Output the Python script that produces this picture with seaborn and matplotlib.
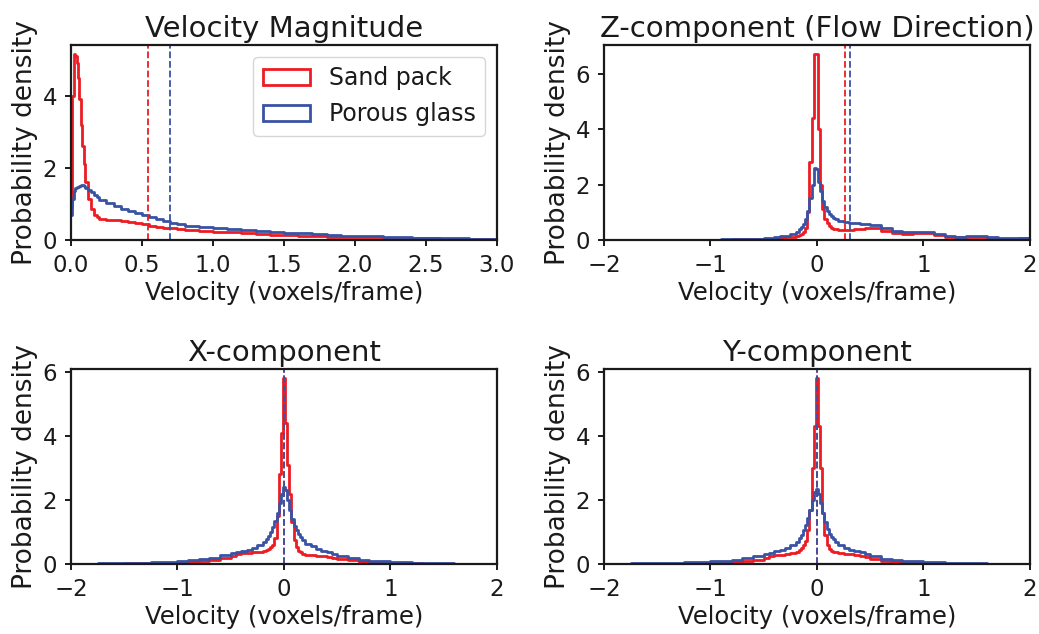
import numpy as np
import pandas as pd
import matplotlib
matplotlib.use("Agg")
import matplotlib.pyplot as plt
from matplotlib.patches import Patch
from matplotlib.ticker import MultipleLocator, FormatStrFormatter
import seaborn as sns

# =============================
# Data (probability density per bin)
# =============================
SERIES = ["Sand pack", "Porous glass"]
COLORS = ["#ed1c24", "#3953a4"]
TITLES = ["Velocity Magnitude", "Z-component (Flow Direction)", "X-component", "Y-component"]

MAG_EDGES = [0.0, 0.01, 0.02, 0.03, 0.04, 0.05, 0.06, 0.07, 0.08, 0.09,
             0.1, 0.12, 0.14, 0.16, 0.18, 0.2, 0.25, 0.3, 0.35, 0.4,
             0.45, 0.5, 0.55, 0.6, 0.65, 0.7, 0.75, 0.8, 0.9, 1.0,
             1.1, 1.2, 1.3, 1.4, 1.5, 1.6, 1.7, 1.8, 1.9, 2.0,
             2.2, 2.4, 2.6, 2.8, 3.0]
MAG_SAND = [0.9, 4.0, 5.15, 5.1, 4.9, 4.5, 3.9, 3.2, 2.6, 2.1,
            1.6, 1.15, 0.85, 0.7, 0.63, 0.58, 0.56, 0.55, 0.53, 0.5,
            0.47, 0.43, 0.4, 0.37, 0.34, 0.32, 0.3, 0.27, 0.25, 0.23,
            0.21, 0.19, 0.17, 0.15, 0.13, 0.12, 0.1, 0.09, 0.08, 0.07,
            0.06, 0.05, 0.04, 0.035]
MAG_GLASS = [0.7, 1.15, 1.35, 1.44, 1.48, 1.48, 1.5, 1.52, 1.53, 1.5,
             1.45, 1.38, 1.32, 1.26, 1.2, 1.12, 1.03, 0.95, 0.87, 0.8,
             0.75, 0.7, 0.64, 0.58, 0.52, 0.47, 0.43, 0.39, 0.36, 0.33,
             0.3, 0.27, 0.25, 0.22, 0.2, 0.18, 0.16, 0.14, 0.12, 0.1,
             0.08, 0.06, 0.05, 0.04]

COMP_EDGES = [-2.0, -1.75, -1.5, -1.25, -1.0, -0.9, -0.8, -0.7, -0.6, -0.5,
              -0.45, -0.4, -0.35, -0.3, -0.25, -0.2, -0.17, -0.15, -0.13, -0.11,
              -0.09, -0.07, -0.05, -0.03, -0.01, 0.01, 0.03, 0.05, 0.07, 0.09,
              0.11, 0.13, 0.15, 0.17, 0.2, 0.25, 0.3, 0.35, 0.4, 0.45,
              0.5, 0.6, 0.7, 0.8, 0.9, 1.0, 1.1, 1.2, 1.3, 1.4,
              1.5, 1.6, 1.7, 1.8, 1.9, 2.0]

Z_SAND = [0.005, 0.005, 0.01, 0.01, 0.015, 0.015, 0.02, 0.025, 0.03, 0.04,
          0.05, 0.06, 0.07, 0.09, 0.11, 0.14, 0.18, 0.22, 0.3, 0.45,
          1.0, 2.8, 4.4, 6.7, 6.7, 4.0, 2.0, 1.1, 0.75, 0.6,
          0.5, 0.44, 0.4, 0.38, 0.36, 0.36, 0.37, 0.38, 0.4, 0.42,
          0.42, 0.34, 0.25, 0.22, 0.24, 0.24, 0.18, 0.12, 0.1, 0.11,
          0.11, 0.08, 0.05, 0.05, 0.06]
Z_GLASS = [0.005, 0.005, 0.01, 0.01, 0.015, 0.02, 0.025, 0.03, 0.045, 0.06,
           0.08, 0.1, 0.13, 0.16, 0.21, 0.3, 0.38, 0.47, 0.58, 0.75,
           1.05, 1.5, 2.0, 2.6, 2.55, 2.1, 1.75, 1.4, 1.2, 1.05,
           0.93, 0.85, 0.8, 0.75, 0.7, 0.65, 0.62, 0.6, 0.58, 0.57,
           0.53, 0.44, 0.33, 0.27, 0.27, 0.28, 0.22, 0.15, 0.12, 0.13,
           0.14, 0.11, 0.08, 0.07, 0.07]

X_SAND = [0.0, 0.01, 0.02, 0.03, 0.05, 0.07, 0.1, 0.14, 0.2, 0.26,
          0.3, 0.33, 0.35, 0.37, 0.39, 0.41, 0.44, 0.47, 0.52, 0.6,
          0.8, 1.5, 2.8, 4.1, 5.8, 4.4, 3.1, 2.2, 1.3, 0.75,
          0.52, 0.42, 0.36, 0.32, 0.29, 0.27, 0.26, 0.24, 0.22, 0.2,
          0.15, 0.11, 0.07, 0.05, 0.04, 0.03, 0.02, 0.02, 0.01, 0.01,
          0.01, 0.0, 0.0, 0.0, 0.0]
X_GLASS = [0.01, 0.02, 0.03, 0.06, 0.09, 0.11, 0.15, 0.2, 0.27, 0.34,
           0.37, 0.41, 0.45, 0.51, 0.58, 0.68, 0.78, 0.88, 1.0, 1.15,
           1.35, 1.6, 1.9, 2.2, 2.42, 2.3, 2.0, 1.7, 1.4, 1.2,
           1.05, 0.93, 0.84, 0.75, 0.64, 0.55, 0.48, 0.42, 0.37, 0.32,
           0.25, 0.18, 0.13, 0.1, 0.08, 0.06, 0.05, 0.04, 0.03, 0.02,
           0.02, 0.01, 0.01, 0.01, 0.0]

Y_SAND = [0.0, 0.01, 0.01, 0.02, 0.03, 0.04, 0.06, 0.09, 0.14, 0.2,
          0.25, 0.28, 0.29, 0.3, 0.33, 0.38, 0.44, 0.5, 0.58, 0.72,
          1.05, 1.7, 3.0, 4.3, 5.8, 4.3, 3.0, 1.6, 0.9, 0.6,
          0.47, 0.42, 0.39, 0.37, 0.35, 0.32, 0.3, 0.28, 0.25, 0.22,
          0.16, 0.1, 0.06, 0.04, 0.03, 0.02, 0.02, 0.01, 0.01, 0.0,
          0.0, 0.0, 0.0, 0.0, 0.0]
Y_GLASS = [0.01, 0.02, 0.03, 0.05, 0.08, 0.1, 0.13, 0.18, 0.24, 0.31,
           0.35, 0.4, 0.45, 0.5, 0.58, 0.68, 0.8, 0.92, 1.05, 1.22,
           1.45, 1.7, 2.0, 2.25, 2.35, 2.2, 1.9, 1.6, 1.3, 1.1,
           0.95, 0.85, 0.77, 0.68, 0.58, 0.5, 0.45, 0.41, 0.36, 0.32,
           0.25, 0.17, 0.12, 0.1, 0.08, 0.06, 0.05, 0.04, 0.03, 0.02,
           0.02, 0.01, 0.01, 0.01, 0.0]

# mean velocity (dashed lines) per panel
MEAN_SAND = [0.543, 0.265, 0.0, 0.0]
MEAN_GLASS = [0.696, 0.312, -0.004, 0.0]

PANELS = [
    (MAG_EDGES, MAG_SAND, MAG_GLASS, (0, 3)),
    (COMP_EDGES, Z_SAND, Z_GLASS, (-2, 2)),
    (COMP_EDGES, X_SAND, X_GLASS, (-2, 2)),
    (COMP_EDGES, Y_SAND, Y_GLASS, (-2, 2)),
]

# =============================
# Style
# =============================
sns.set_theme(style="ticks")
plt.rcParams.update({
    "font.family": ["DejaVu Sans"],
    "axes.titlesize": 21,
    "axes.labelsize": 17.5,
    "xtick.labelsize": 16.5,
    "ytick.labelsize": 16.5,
    "legend.fontsize": 17,
    "axes.linewidth": 1.6,
    "axes.edgecolor": "#1a1a1a",
    "xtick.major.size": 4.5,
    "ytick.major.size": 4.5,
    "xtick.major.width": 1.4,
    "ytick.major.width": 1.4,
    "xtick.major.pad": 5.5,
    "ytick.major.pad": 5.5,
    "text.color": "#1a1a1a",
    "axes.labelcolor": "#1a1a1a",
    "xtick.color": "#1a1a1a",
    "ytick.color": "#1a1a1a",
})


def step_hist(ax, edges, vals, color):
    e = [float(v) for v in edges]
    centers = [(a + b) / 2 for a, b in zip(e[:-1], e[1:])]
    d = pd.DataFrame({"v": centers, "w": vals})
    sns.histplot(data=d, x="v", weights="w", bins=e, element="step",
                 fill=False, color=color, linewidth=2.0, ax=ax)


fig = plt.figure(figsize=(10.39, 6.34), dpi=100)
axes = fig.subplots(2, 2).ravel()
fig.subplots_adjust(left=0.0683, right=0.9913, top=0.929, bottom=0.1104,
                    wspace=0.251, hspace=0.662)

for i, (ax, (edges, sand, glass, xlim)) in enumerate(zip(axes, PANELS)):
    step_hist(ax, edges, sand, COLORS[0])
    step_hist(ax, edges, glass, COLORS[1])
    ax.axvline(MEAN_SAND[i], color=COLORS[0], ls="--", lw=1.3)
    ax.axvline(MEAN_GLASS[i], color=COLORS[1], ls="--", lw=1.3)
    ax.set_xlim(*xlim)
    ax.set_ylim(0, max(max(sand), max(glass)) * 1.05)
    ax.yaxis.set_major_locator(MultipleLocator(2))
    if i == 0:
        ax.xaxis.set_major_locator(MultipleLocator(0.5))
        ax.xaxis.set_major_formatter(FormatStrFormatter("%.1f"))
    else:
        ax.xaxis.set_major_locator(MultipleLocator(1))
    ax.set_title(TITLES[i])
    ax.set_xlabel("Velocity (voxels/frame)", labelpad=3)
    ax.set_ylabel("Probability density", fontsize=19, labelpad=3)

handles = [Patch(facecolor="none", edgecolor=c, linewidth=2.0, label=s)
           for s, c in zip(SERIES, COLORS)]
axes[0].legend(handles=handles, loc="upper right")

fig.savefig("out.png", dpi=100)
